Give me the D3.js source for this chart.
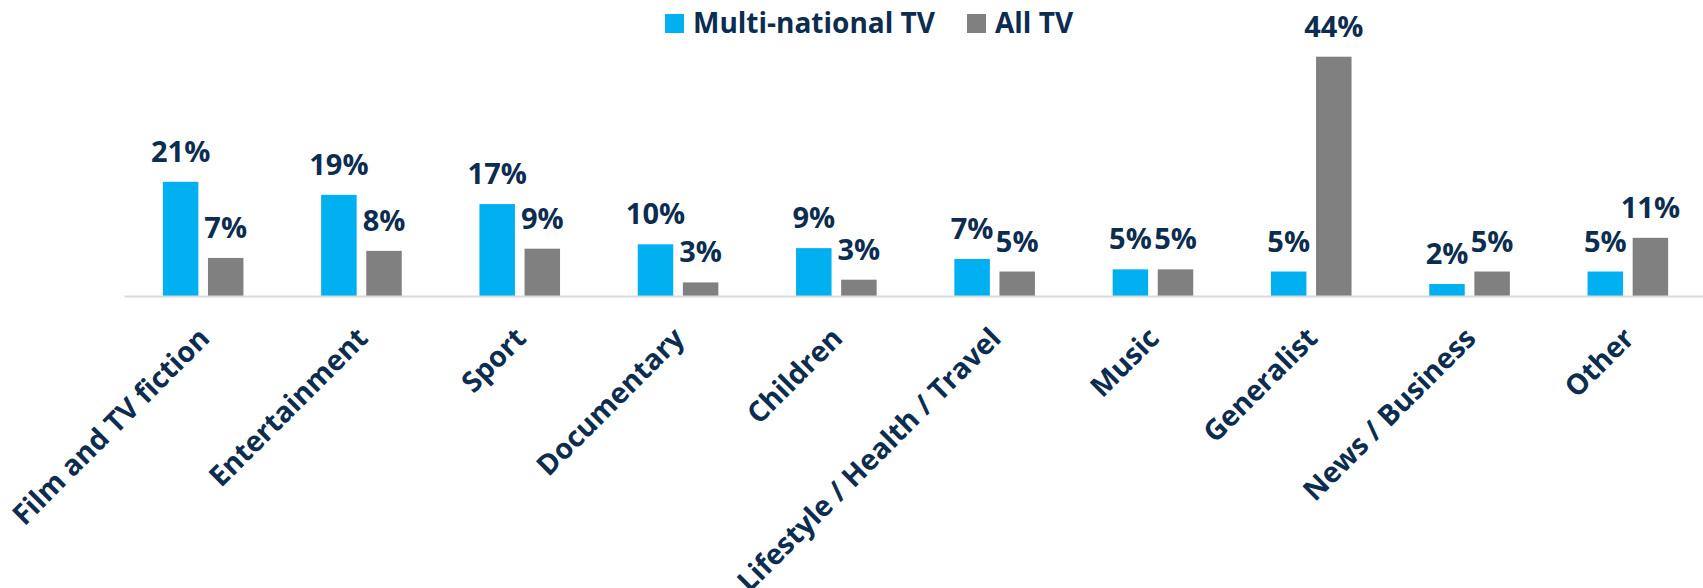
<!DOCTYPE html>
<html>
<head>
<meta charset="utf-8">
<script src="https://cdn.jsdelivr.net/npm/d3@7/dist/d3.min.js"></script>
<style>
  html, body { margin: 0; padding: 0; background: #ffffff; }
  svg { display: block; }
  text { font-family: "Open Sans", "Noto Sans", sans-serif; font-weight: 700; fill: #0c2d4f; }
</style>
</head>
<body>
<svg id="chart" width="1703" height="588"></svg>
<script>
const categories = ["Film and TV fiction", "Entertainment", "Sport", "Documentary", "Children",
  "Lifestyle / Health / Travel", "Music", "Generalist", "News / Business", "Other"];
const seriesNames = ["Multi-national TV", "All TV"];
const multiNationalTV = [21.0, 18.6, 16.9, 9.5, 8.8, 6.8, 4.9, 4.5, 2.2, 4.5];
const allTV = [7.0, 8.3, 8.7, 2.5, 3.0, 4.5, 4.9, 44.0, 4.5, 10.7];
const seriesColors = ["#00b0f0", "#808080"];

const svg = d3.select("#chart");
const axisY = 296;

const x = d3.scaleBand().domain(categories).range([124, 1707]).paddingInner(0).paddingOuter(0);
const xs = d3.scaleBand().domain(seriesNames).range([-40.3, 40.3]).paddingInner(0.213);
const y = d3.scaleLinear().domain([0, 44]).range([axisY, 56.7]);

const data = categories.map((c, i) => ({
  cat: c,
  vals: [
    { s: seriesNames[0], v: multiNationalTV[i], color: seriesColors[0] },
    { s: seriesNames[1], v: allTV[i], color: seriesColors[1] }
  ]
}));

// bars
const groups = svg.append("g").selectAll("g.grp").data(data).join("g")
  .attr("class", "grp")
  .attr("transform", d => `translate(${x(d.cat) + x.bandwidth() / 2},0)`);

groups.selectAll("rect").data(d => d.vals).join("rect")
  .attr("x", d => xs(d.s))
  .attr("width", xs.bandwidth())
  .attr("y", d => y(d.v))
  .attr("height", d => axisY - y(d.v))
  .attr("fill", d => d.color);

groups.selectAll("text.val").data(d => d.vals).join("text")
  .attr("class", "val")
  .attr("x", d => xs(d.s) + xs.bandwidth() / 2)
  .attr("y", d => y(d.v) - 20)
  .attr("text-anchor", "middle")
  .style("font-size", "29px")
  .text(d => Math.round(d.v) + "%");

// x axis
const xAxis = d3.axisBottom(x).tickSize(0).tickPadding(0);
const ax = svg.append("g").attr("transform", `translate(0,${axisY})`).call(xAxis);
ax.select(".domain").attr("stroke", "#d9d9d9").attr("stroke-width", 2);
ax.selectAll(".tick text")
  .attr("fill", "#0c2d4f")
  .style("font-family", '"Open Sans", "Noto Sans", sans-serif')
  .style("font-weight", 700)
  .style("font-size", "28.5px")
  .attr("text-anchor", "end")
  .attr("y", 0).attr("dy", 0)
  .attr("transform", "translate(8,44) rotate(-45)");

// legend
const legend = svg.append("g");
const legendItems = [
  { name: seriesNames[0], color: seriesColors[0], x: 665 },
  { name: seriesNames[1], color: seriesColors[1], x: 967 }
];
legendItems.forEach(it => {
  legend.append("rect").attr("x", it.x).attr("y", 14).attr("width", 19).attr("height", 19).attr("fill", it.color);
  legend.append("text").attr("x", it.x + 28).attr("y", 33).style("font-size", "28px").text(it.name);
});
</script>
</body>
</html>
